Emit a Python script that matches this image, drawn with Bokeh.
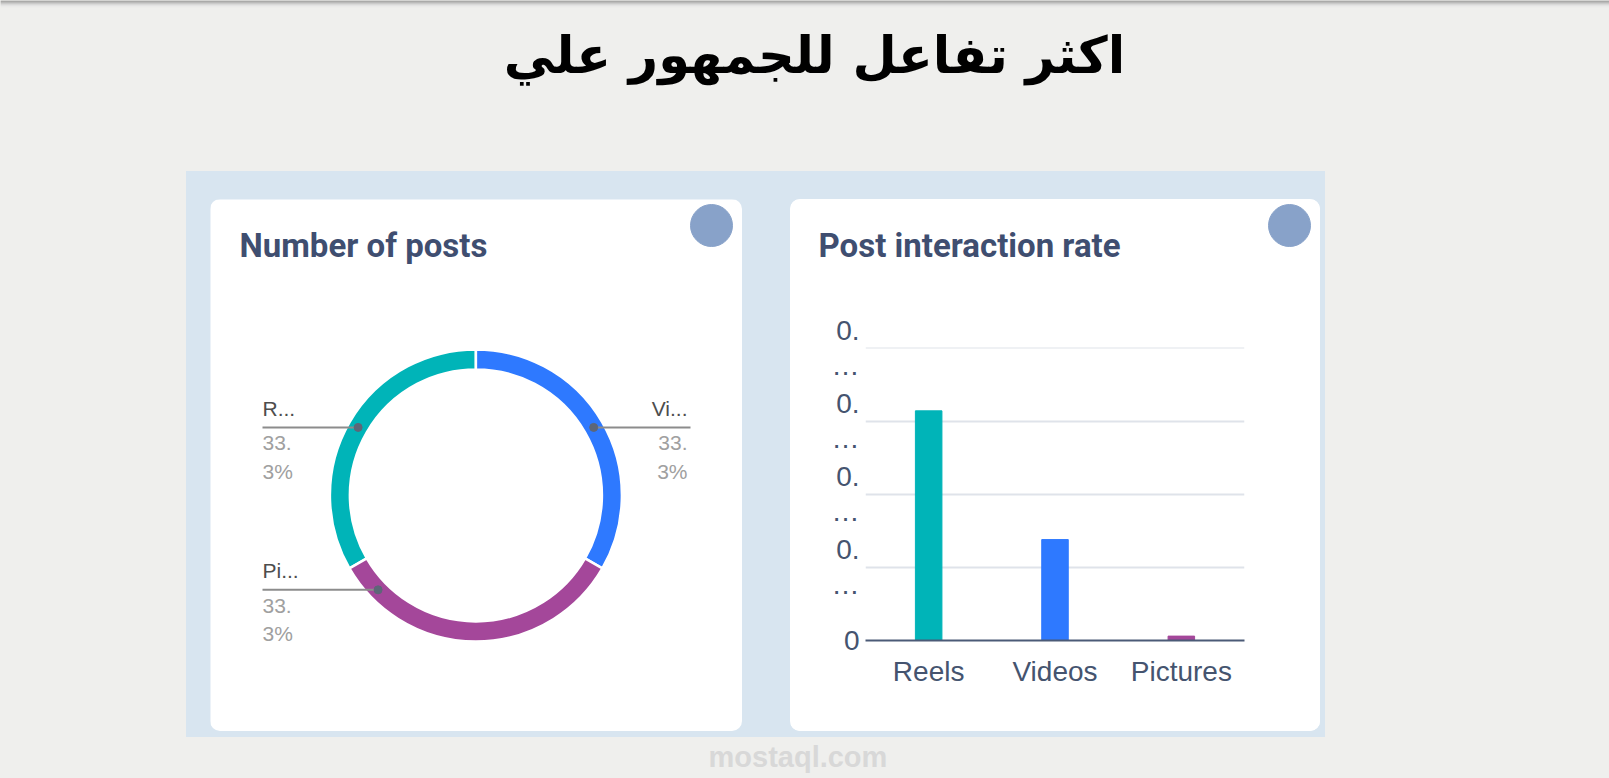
import math
from bokeh.plotting import figure
from bokeh.layouts import column, row
from bokeh.models import Range1d, FixedTicker, Spacer, ColumnDataSource
from bokeh.core.properties import value
from bokeh.embed import file_html
from bokeh.resources import INLINE

# ---------------- data ----------------
PAGE_TITLE = "اكثر تفاعل للجمهور علي"
DONUT_TITLE = "Number of posts"
BAR_TITLE = "Post interaction rate"
CATEGORIES = ["Reels", "Videos", "Pictures"]
SHORT_NAMES = ["R...", "Vi...", "Pi..."]
POST_COUNTS = [1, 1, 1]
INTERACTION_RATE = [0.157, 0.069, 0.003]
Y_TICKS = [0, 0.05, 0.10, 0.15, 0.20]
Y_TICK_LABELS = ["0", "0.\n…", "0.\n…", "0.\n…", "0.\n…"]
WATERMARK = "mostaql.com"

# ---------------- style ----------------
COLORS = ["#00b4b8", "#2e79ff", "#a4479a"]
GRAY = "#efefed"
BLUE = "#d8e5f0"
TITLE_COLOR = "#3f4e70"
AXIS_COLOR = "#45546f"
DOT_COLOR = "#88a2c9"


def blank(w, h, bg="white"):
    p = figure(width=w, height=h, x_range=Range1d(0, w), y_range=Range1d(0, h),
               output_backend="svg", toolbar_location=None, min_border=0,
               x_axis_location=None, y_axis_location=None, frame_align=False)
    p.grid.visible = False
    p.outline_line_color = None
    p.background_fill_color = bg
    p.border_fill_color = bg
    return p


# ---------------- header ----------------
HEAD_H = 171
head = blank(1609, HEAD_H, GRAY)
shade = ["#858585", "#9a9a9a", "#b0b0b0", "#c6c6c6", "#d8d8d8", "#e4e4e3", "#ebebe9"]
head.quad(left=0, right=1609, top=[HEAD_H - i for i in range(len(shade))],
          bottom=[HEAD_H - i - 1 for i in range(len(shade))],
          fill_color=shade, line_color=None)
head.text(x=[814], y=[116], text=[PAGE_TITLE], text_align="center",
          text_baseline="alphabetic", text_font=value("DejaVu Sans"),
          text_font_style="bold", text_font_size="51px", text_color="#000000")

# ---------------- card 1 : donut ----------------
c1 = blank(532, 532)
c1.text(x=[29], y=[486], text=[DONUT_TITLE], text_font=value("Roboto"),
        text_font_style="bold", text_font_size="33px", text_color=TITLE_COLOR,
        text_baseline="alphabetic")
c1.circle(x=[501], y=[506], radius=21, color=DOT_COLOR)

CX, CY, R_IN, R_OUT = 265.4, 236.1, 126, 146
total = sum(POST_COUNTS)
start_clock = 240.0  # Reels starts at 8 o'clock, going clockwise
starts, ends, mids = [], [], []
acc = start_clock
for v in POST_COUNTS:
    span = v / total * 360.0
    starts.append(math.radians(90 - acc))
    ends.append(math.radians(90 - acc - span))
    mids.append(acc + span / 2)
    acc += span
c1.annular_wedge(x=CX, y=CY, inner_radius=R_IN, outer_radius=R_OUT,
                 start_angle=starts, end_angle=ends, direction="clock",
                 fill_color=COLORS, line_color="white", line_width=2.5)

NUDGE = [0, 0, 46]
R_MID = 136
lx0, lx1, ly0, ly1, dx, dy = [], [], [], [], [], []
nm_x, nm_y, nm_t, nm_a = [], [], [], []
pc_x, pc_y, pc_t, pc_a = [], [], [], []
for i, v in enumerate(POST_COUNTS):
    ang = math.radians((mids[i] + NUDGE[i]) % 360)
    ax = CX + R_MID * math.sin(ang)
    ay = CY + R_MID * math.cos(ang)
    dx.append(ax); dy.append(ay)
    left = math.sin(ang) < 0
    if left:
        lx0.append(52); lx1.append(ax); tx = 52; al = "left"
    else:
        lx0.append(ax); lx1.append(480); tx = 477; al = "right"
    ly0.append(ay); ly1.append(ay)
    nm_x.append(tx); nm_y.append(ay + 19); nm_t.append(SHORT_NAMES[i]); nm_a.append(al)
    pct = f"{v / total * 100:.1f}%"
    for k, part in enumerate([pct[:3], pct[3:]]):
        pc_x.append(tx); pc_y.append(ay - 16 - 28 * k); pc_t.append(part); pc_a.append(al)

c1.segment(x0=lx0, y0=ly0, x1=lx1, y1=ly1, line_color="#8c8c8c", line_width=2)
c1.scatter(x=dx, y=dy, size=8, color="#5d6678")
c1.text(x="x", y="y", text="t", text_align="a",
        source=ColumnDataSource(dict(x=nm_x, y=nm_y, t=nm_t, a=nm_a)),
        text_font=value("Liberation Sans"), text_font_size="21px", text_color="#4d4d4d",
        text_baseline="alphabetic")
c1.text(x="x", y="y", text="t", text_align="a",
        source=ColumnDataSource(dict(x=pc_x, y=pc_y, t=pc_t, a=pc_a)),
        text_font=value("Liberation Sans"), text_font_size="21px", text_color="#a0a0a0",
        text_baseline="alphabetic")
c1.margin = (28, 0, 6, 24)
c1.styles = {"border-radius": "10px", "overflow": "hidden"}

# ---------------- card 2 : bars ----------------
h2 = blank(530, 100)
h2.text(x=[28], y=[54.4], text=[BAR_TITLE], text_font=value("Roboto"),
        text_font_style="bold", text_font_size="33px", text_color=TITLE_COLOR,
        text_baseline="alphabetic")
h2.circle(x=[499], y=[74], radius=21, color=DOT_COLOR)

b = figure(width=530, height=432, x_range=CATEGORIES, y_range=Range1d(0, 0.2003),
           output_backend="svg", toolbar_location=None, frame_align=False,
           min_border_left=75, min_border_right=76, min_border_top=48,
           min_border_bottom=91)
b.vbar(x=CATEGORIES, top=INTERACTION_RATE, width=0.21, color=COLORS)
b.outline_line_color = None
b.background_fill_color = "white"
b.border_fill_color = "white"
b.xgrid.visible = False
b.ygrid.grid_line_color = "#dfe3ea"
b.ygrid.grid_line_width = 2
b.yaxis.ticker = FixedTicker(ticks=Y_TICKS)
b.yaxis.major_label_overrides = dict(zip(Y_TICKS, Y_TICK_LABELS))
b.yaxis.axis_line_color = None
b.yaxis.major_tick_line_color = None
b.yaxis.minor_tick_line_color = None
b.yaxis.major_label_standoff = 0
b.xaxis.axis_line_color = "#4b5a77"
b.xaxis.axis_line_width = 2
b.xaxis.major_tick_line_color = None
b.xaxis.major_label_standoff = 9
for ax in (b.xaxis, b.yaxis):
    ax.major_label_text_font = "Liberation Sans"
    ax.major_label_text_font_size = "28px"
    ax.major_label_text_color = AXIS_COLOR
b.yaxis.major_label_text_line_height = 1.12

card2 = column(h2, b, margin=(28, 5, 6, 48),
               styles={"border-radius": "10px", "overflow": "hidden",
                       "background-color": "white"})

panel = row(c1, card2, styles={"background-color": BLUE})
middle = row(Spacer(width=186, height=566), panel, Spacer(width=284, height=566))

# ---------------- bottom (watermark) ----------------
FOOT_H = 41
foot = blank(1609, FOOT_H, GRAY)
foot.text(x=[708], y=[22], text=[WATERMARK], text_font=value("Liberation Sans"),
          text_font_style="bold", text_font_size="29px", text_color="#d8d8d8",
          text_baseline="middle")

root = column(head, middle, foot, styles={"background-color": GRAY})

html = file_html(root, INLINE)
html = html.replace("<body>", '<body style="background:%s;">' % GRAY, 1)
open("out.html", "w").write(html)
